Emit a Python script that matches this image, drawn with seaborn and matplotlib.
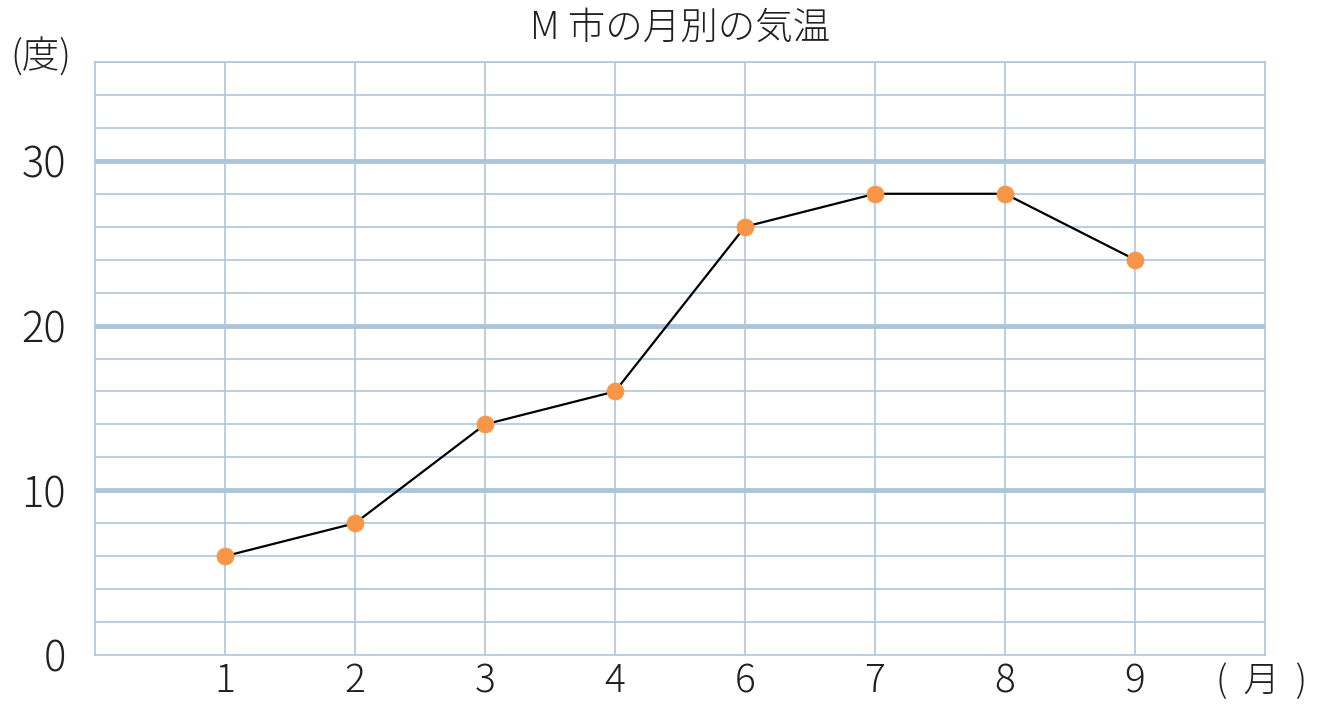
import numpy as np
import pandas as pd
import matplotlib
matplotlib.use("Agg")
import matplotlib.pyplot as plt
import seaborn as sns
from matplotlib.ticker import MultipleLocator

months = ["1", "2", "3", "4", "6", "7", "8", "9"]
temps = [6, 8, 14, 16, 26, 28, 28, 24]
y_ticks = [0, 10, 20, 30]
title = "M 市の月別の気温"
y_unit = "(度)"
x_unit = "(  月  )"

sns.set_theme(style="white")
plt.rcParams['font.family'] = ['Noto Sans CJK JP', 'DejaVu Sans']

grid_c = "#abc5da"
text_c = "#231f20"
fw = "light"

fig = plt.figure(figsize=(13.17, 7.05), dpi=100)
ax = fig.add_axes([95/1317, (705-655)/705, (1265-95)/1317, (655-62)/705])

pos = np.arange(1, len(months) + 1)
df = pd.DataFrame({"pos": pos, "temp": temps})

ax.set_xlim(0, len(months) + 1)
ax.set_ylim(0, 36)

# grid
ax.yaxis.set_minor_locator(MultipleLocator(2))
ax.set_xticks(pos)
ax.set_xticklabels(months, fontweight=fw)
ax.set_yticks(y_ticks)
ax.set_yticklabels([str(v) for v in y_ticks], fontweight=fw)
ax.grid(False)
ax.grid(True, which="minor", axis="y", color=grid_c, linewidth=1.15)
ax.grid(True, which="major", axis="x", color=grid_c, linewidth=1.15)
for v in y_ticks[1:]:
    ax.axhline(v, color=grid_c, linewidth=3.5, zorder=1)
ax.set_axisbelow(True)
for s in ax.spines.values():
    s.set_color(grid_c)
    s.set_linewidth(1.15)

sns.lineplot(data=df, x="pos", y="temp", ax=ax, color="black", linewidth=1.6,
             marker="o", markersize=12, markerfacecolor="#f79646",
             markeredgecolor="#f79646", zorder=5)

ax.set_xlabel("")
ax.set_ylabel("")
ax.tick_params(axis="y", which="both", length=0, labelsize=30, colors=text_c, pad=21)
ax.tick_params(axis="x", which="both", length=0, labelsize=28, colors=text_c, pad=5)

fig.text(680/1317, 1 - 28/705, title, ha="center", va="center", fontsize=27,
         color=text_c, fontweight=fw)
fig.text(41/1317, 1 - 58/705, y_unit, ha="center", va="center", fontsize=27,
         color=text_c, fontweight=fw)
fig.text(1262/1317, 1 - 682/705, x_unit, ha="center", va="center", fontsize=26,
         color=text_c, fontweight=fw)

fig.savefig("out.png", dpi=100)
